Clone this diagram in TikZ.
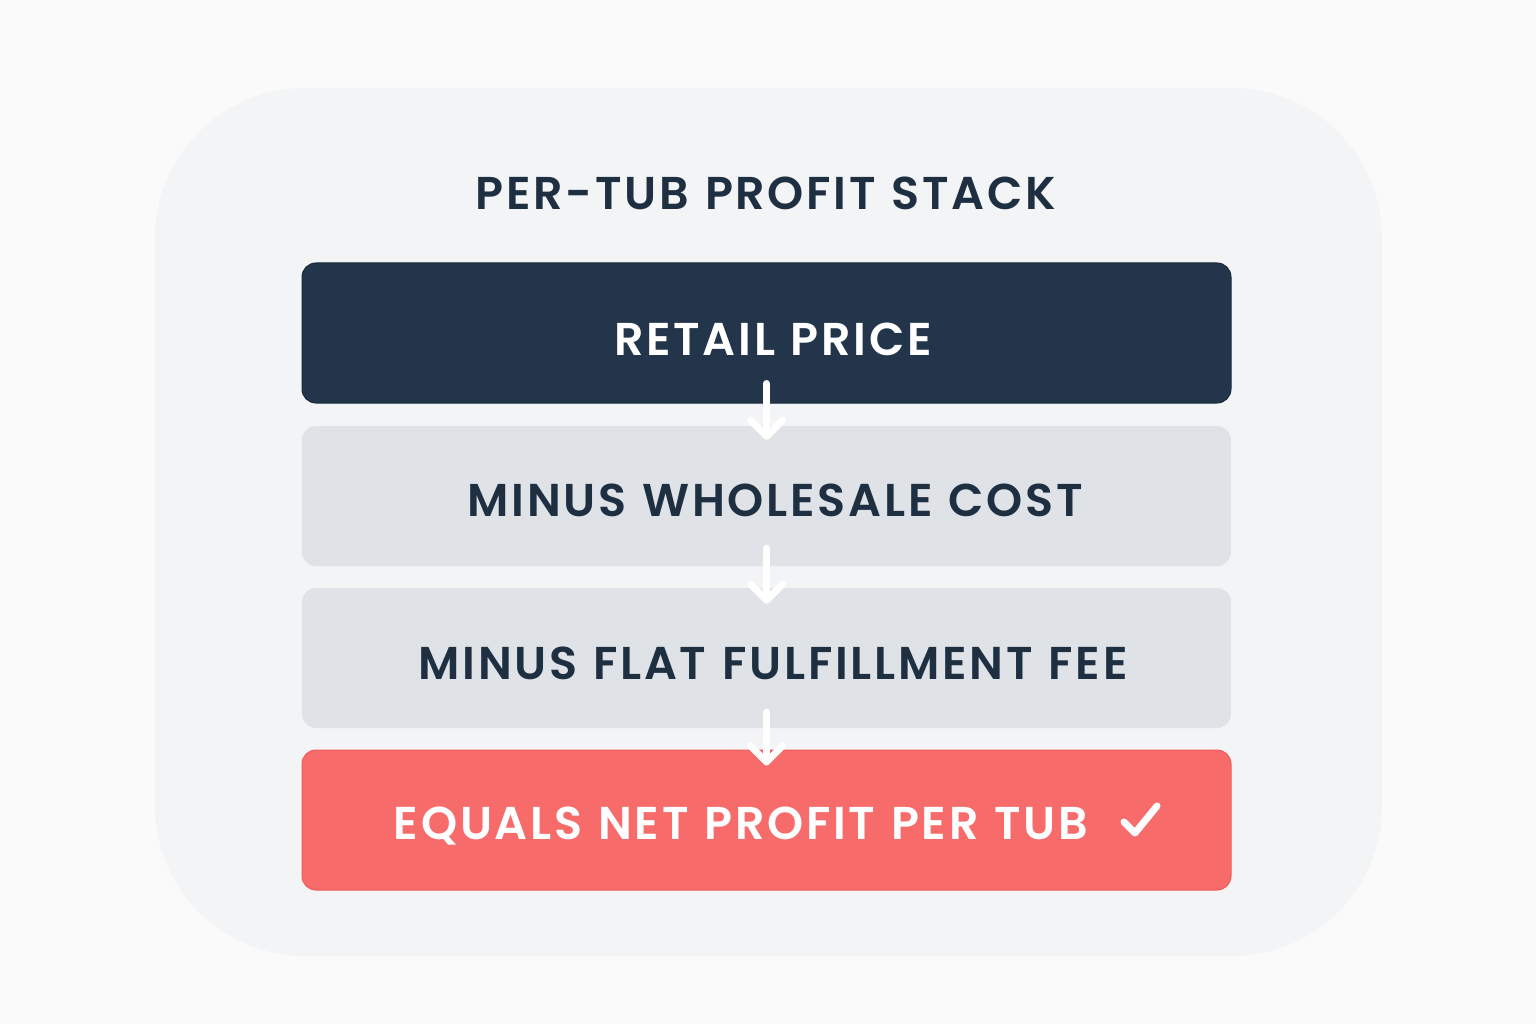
\documentclass[tikz,border=0pt]{standalone}
\usepackage{fontspec}
\setmainfont{Poppins}
\newfontfamily\labelfont[LetterSpace=6, WordSpace=1.15, BoldFont={Poppins SemiBold}]{Poppins}
\usetikzlibrary{arrows.meta,calc}
\definecolor{pagebg}{HTML}{FAFAFA}
\definecolor{panelbg}{HTML}{F3F4F5}
\definecolor{navy}{HTML}{22354A}
\definecolor{greybox}{HTML}{DFE3E7}
\definecolor{coral}{HTML}{F76B6B}
\definecolor{coraledge}{HTML}{F05A5A}
\definecolor{inkdark}{HTML}{1F2F42}
\tikzset{
  stackbox/.style={rectangle, rounded corners=14pt, minimum width=929pt, minimum height=140pt, inner sep=0pt},
  boxtext/.style={font=\labelfont\bfseries\fontsize{46}{50}\selectfont},
  flowarrow/.style={draw=white, line width=7pt, line cap=round, -{Straight Barb[length=16pt, width=32pt, line cap=round, line join=round]}}
}
\begin{document}
\begin{tikzpicture}[x=1pt,y=-1pt]
\useasboundingbox (0,0) rectangle (1536,1024);
\fill[pagebg] (0,0) rectangle (1536,1024);
\fill[panelbg, rounded corners=150pt] (155,88) rectangle (1382,956);
\node[boxtext, text=inkdark, anchor=center] (title) at (766,193) {PER-TUB PROFIT STACK};
\node[stackbox, fill=navy, draw=navy!80!black, line width=1pt] (b1) at (766.5,333) {};
\node[boxtext, text=white] (t1) at (773,339) {RETAIL PRICE};
\node[stackbox, fill=greybox] (b2) at (766.5,496) {};
\node[boxtext, text=inkdark] (t2) at (775,500) {MINUS WHOLESALE COST};
\node[stackbox, fill=greybox] (b3) at (766.5,658) {};
\node[boxtext, text=inkdark] (t3) at (773,663) {MINUS FLAT FULFILLMENT FEE};
\node[stackbox, fill=coral, draw=coraledge, line width=1pt] (b4) at (766.5,820) {};
\node[boxtext, text=white, anchor=center] (t4) at (741,826) {EQUALS NET PROFIT PER TUB};
\draw[flowarrow] ($(b1.south)+(0,-20)$) -- ($(b2.north)+(0,14)$);
\draw[flowarrow] ($(b2.south)+(0,-18)$) -- ($(b3.north)+(0,16)$);
\draw[flowarrow] ($(b3.south)+(0,-16)$) -- ($(b4.north)+(0,16)$);
\coordinate (c1) at (1124,822);
\coordinate (c2) at (1135,833);
\coordinate (c3) at (1157,806);
\draw[white, line width=7pt, line cap=round, line join=round] (c1) -- (c2) -- (c3);
\end{tikzpicture}
\end{document}
